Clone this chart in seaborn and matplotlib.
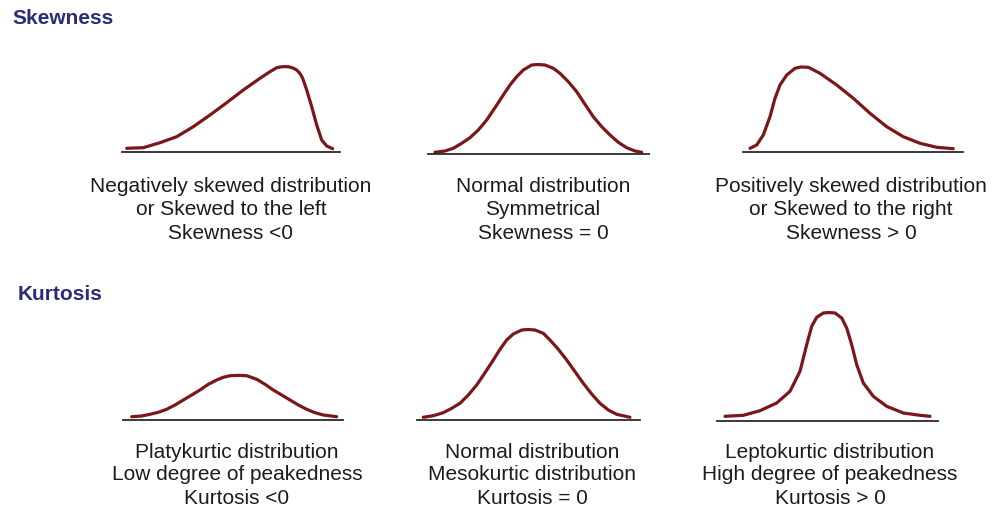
import numpy as np
import pandas as pd
import matplotlib
matplotlib.use("Agg")
import matplotlib.pyplot as plt
import seaborn as sns

# Curve shapes: x along the base line, y = height above it (px)
neg_x = [4.7, 21.3, 38, 54.7, 71.3, 88, 104.7, 121.3, 138, 148, 154.7, 160, 166.3, 171, 174.7, 178, 180.7, 184.7, 189.7, 194.7, 199.7, 204.7, 210.7]
neg_y = [3.7, 4.3, 9.3, 15.3, 25.3, 37, 49.3, 62, 73.7, 80.3, 84.3, 85.3, 85.3, 84, 82, 78.5, 73.7, 62, 45.3, 27, 12, 6, 3.3]

norm_x = [7, 17, 25.3, 33.7, 42, 50.3, 58.7, 67, 75.3, 82, 88.7, 95.3, 103.7, 110, 117, 125.3, 132, 140.3,
          148.7, 157, 165.3, 173.7, 182, 190.3, 198.7, 207, 213.7]
norm_y = [1.2, 2.5, 5.2, 10.2, 15.8, 23.5, 33.5, 45.8, 58.5, 68.5, 76.8, 83.5, 88.5, 89, 88.5, 85.2, 80.2, 71.8,
          61.8, 49.2, 36.8, 26.8, 18.5, 11.2, 5.8, 2.5, 1.2]

pos_x = [7, 13.7, 20.3, 27, 32, 37, 43.7, 52, 58, 65.3, 77, 93.7, 110.3, 127, 143.7, 160.3, 177, 193.7, 210.3]
pos_y = [3.7, 7, 17, 35.3, 53.7, 67, 77, 83.7, 85, 84.7, 78.7, 67, 53.7, 38.7, 25.3, 15.3, 8.7, 4.7, 3.3]

platy_x = [8.7, 18.7, 27, 35.3, 43.7, 52, 60.3, 68.7, 77, 85.3, 93.7, 100.3, 107, 115, 123.7, 133.7, 142,
           150.3, 158.7, 167, 175.3, 183.7, 192, 200.3, 213.7]
platy_y = [3.3, 4, 5.7, 7.7, 10.7, 15, 20, 25, 30, 35.7, 40, 42.7, 44.3, 44.6, 44.3, 40.7, 35.7,
           30, 25, 20, 15, 10.7, 7.3, 5, 3.3]

meso_x = [6.3, 16.3, 26.3, 34.7, 43, 51.3, 59.7, 68, 76.3, 83, 89.7, 96.3, 104.7, 111, 118, 126.3, 133,
          141.3, 149.7, 158, 166.3, 174.7, 183, 191.3, 199.7, 213]
meso_y = [2.7, 4.3, 7.3, 11.7, 16.7, 25, 35, 47.3, 60, 70.7, 80, 86, 90, 90.5, 90, 86.7, 80,
          70.7, 60, 48.3, 36.7, 26, 16.7, 10, 5.7, 2.7]

lepto_x = [8, 26.3, 43, 59.7, 73, 83, 89.7, 94.7, 99.7, 106.3, 112, 118, 124.7, 129.7, 134.7, 139.7,
           146.3, 156.3, 169.7, 186.3, 203, 213]
lepto_y = [4.2, 5.2, 9.8, 17.5, 29.2, 49.2, 75.8, 94.2, 103.2, 107.5, 108, 107.5, 102.5, 92.5, 75.8, 55.8,
           37.5, 24.2, 14.2, 7.5, 5.2, 4.2]

headers = ["Skewness", "Kurtosis"]

captions = [
    ["Negatively skewed distribution", "or Skewed to the left", "Skewness <0"],
    ["Normal distribution", "Symmetrical", "Skewness = 0"],
    ["Positively skewed distribution", "or Skewed to the right", "Skewness > 0"],
    ["Platykurtic distribution", "Low degree of peakedness", "Kurtosis <0"],
    ["Normal distribution", "Mesokurtic distribution", "Kurtosis = 0"],
    ["Leptokurtic distribution", "High degree of peakedness", "Kurtosis > 0"],
]

curves = [(neg_x, neg_y), (norm_x, norm_y), (pos_x, pos_y),
          (platy_x, platy_y), (meso_x, meso_y), (lepto_x, lepto_y)]

sns.set_style("white")
plt.rcParams['font.family'] = ['Liberation Sans', 'DejaVu Sans']

W, H = 994, 508
fig = plt.figure(figsize=(W / 100, H / 100), dpi=100)
fig.patch.set_facecolor("white")

# panel layout in pixels: left edge of base line, base line y, base line width
panels = [(122, 152, 218), (428, 153.5, 221), (743, 152, 220),
          (123, 420, 220), (417, 420, 223), (717, 420.5, 221)]
caption_x = [231, 543, 851, 237, 532, 830]
caption_y = [[186, 210, 233], [186, 210, 233], [186, 210, 233],
             [452, 475, 498], [452, 475, 498], [452, 475, 498]]

curve_color = "#7b1719"
for (left, base, width), (xs, ys) in zip(panels, curves):
    h = 115
    ax = fig.add_axes([left / W, 1 - base / H, width / W, h / H])
    sns.lineplot(x=xs, y=ys, ax=ax, color=curve_color, linewidth=2.3, sort=False)
    for ln in ax.lines:
        ln.set_solid_capstyle("round")
        ln.set_solid_joinstyle("round")
        ln.set_clip_on(False)
    ax.set_xlim(0, width)
    ax.set_ylim(0, h)
    ax.set_xticks([])
    ax.set_yticks([])
    for s in ["top", "left", "right"]:
        ax.spines[s].set_visible(False)
    ax.spines["bottom"].set_color("#2a2a2a")
    ax.spines["bottom"].set_linewidth(1.3)
    ax.patch.set_alpha(0)

for cx, cys, lines in zip(caption_x, caption_y, captions):
    for cy, t in zip(cys, lines):
        fig.text(cx / W, 1 - cy / H, t, ha="center", va="center",
                 fontsize=15, color="#1c1c1c")

fig.text(12 / W, 1 - 18 / H, headers[0], ha="left", va="center",
         fontsize=15, fontweight="bold", color="#2b2c78")
fig.text(18 / W, 1 - 294 / H, headers[1], ha="left", va="center",
         fontsize=15, fontweight="bold", color="#2b2c78")

fig.savefig("out.png", dpi=100, facecolor="white")
